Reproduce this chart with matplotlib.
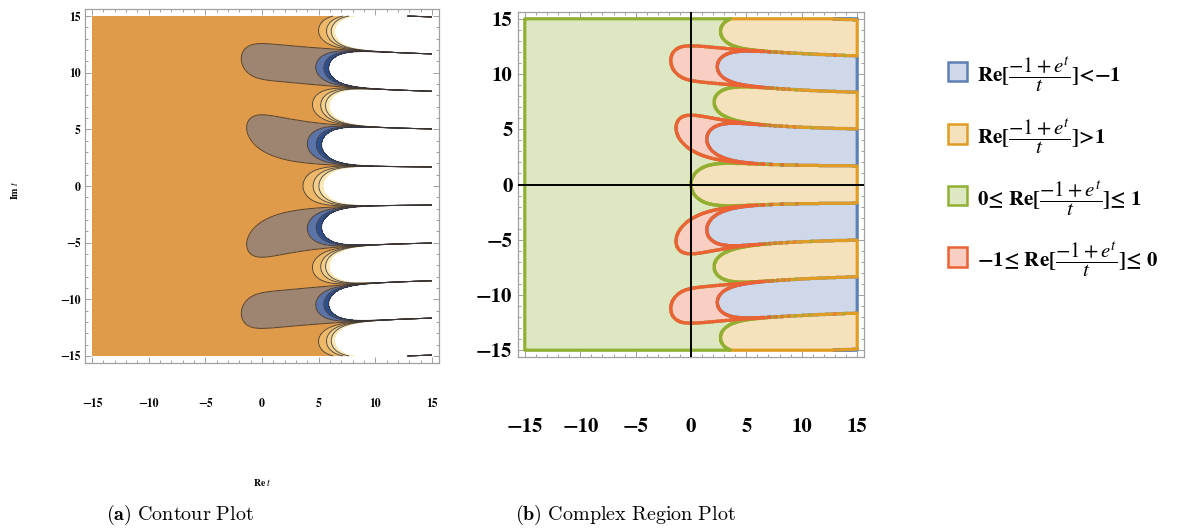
import numpy as np
import matplotlib.pyplot as plt
from matplotlib.patches import Rectangle
from matplotlib.colors import to_rgba
from matplotlib.ticker import MultipleLocator

# plotted function: Re[(e^t - 1)/t] on the square -15..15 x -15..15
re_lim = [-15, 15]
im_lim = [-15, 15]
n_grid = 900

# contour plot (a): contour levels and band colours
contour_levels = [-30, -20, -10, 0, 10, 20, 30, 40]
band_colors = ['#2c4f8e', '#5a73a8', '#9e8572', '#e09b4a', '#eeb868', '#f4cf8c', '#fbe7b4']

# region plot (b)
region_lo = [-np.inf, 1, 0, -1]
region_hi = [-1, np.inf, 1, 0]
region_colors = ['#5E81B5', '#E19C24', '#8FB032', '#EB6235']
frac = r'$\dfrac{-1+e^{t}}{t}$'
region_labels = ['Re[' + frac + ']<\u22121',
                 'Re[' + frac + ']>1',
                 '0\u2264 Re[' + frac + ']\u2264 1',
                 '\u22121\u2264 Re[' + frac + ']\u2264 0']

tick_values = [-15, -10, -5, 0, 5, 10, 15]

# evaluate the function
x = np.linspace(re_lim[0], re_lim[1], n_grid)
y = np.linspace(im_lim[0], im_lim[1], n_grid)
X, Y = np.meshgrid(x, y)
T = X + 1j * Y
with np.errstate(divide='ignore', invalid='ignore'):
    F = ((np.exp(T) - 1) / T).real
F[np.abs(T) == 0] = 1.0

fig = plt.figure(figsize=(11.91, 5.31), dpi=100)
frame_col = '#a0a0a0'


def style_frame(ax, pad, size, lab_pad_x, lab_pad_y, weight):
    ax.set_xlim(re_lim[0] - pad, re_lim[1] + pad)
    ax.set_ylim(im_lim[0] - pad, im_lim[1] + pad)
    ax.set_xticks(tick_values)
    ax.set_yticks(tick_values)
    ax.xaxis.set_minor_locator(MultipleLocator(1))
    ax.yaxis.set_minor_locator(MultipleLocator(1))
    for s in ax.spines.values():
        s.set_color(frame_col)
        s.set_linewidth(0.9)
    ax.tick_params(which='both', direction='in', top=True, right=True, color=frame_col, width=0.7)
    ax.tick_params(which='major', length=4)
    ax.tick_params(which='minor', length=2)
    ax.tick_params(axis='x', pad=lab_pad_x)
    ax.tick_params(axis='y', pad=lab_pad_y)
    for lab in ax.get_xticklabels() + ax.get_yticklabels():
        lab.set_fontfamily('STIXGeneral')
        lab.set_fontsize(size)
        lab.set_fontweight(weight)


# (a) contour plot
ax1 = fig.add_axes([85 / 1191, 1 - 363 / 531, 354 / 1191, 354 / 531])
ax1.contourf(X, Y, F, levels=contour_levels, colors=band_colors)
ax1.contour(X, Y, F, levels=contour_levels[:-1], colors='#3a3330', linewidths=0.7, alpha=0.85,
            negative_linestyles='solid')
style_frame(ax1, 0.62, 8.5, 25, 3, 'bold')
fig.text(262 / 1191, 1 - 483 / 531, r'Re $t$', ha='center', va='center', fontsize=7,
         fontfamily='STIXGeneral', fontweight='bold', math_fontfamily='stix')
fig.text(15 / 1191, 1 - 190 / 531, r'Im $t$', ha='center', va='center', fontsize=7, rotation=90,
         fontfamily='STIXGeneral', fontweight='bold', math_fontfamily='stix')

# (b) complex region plot
ax2 = fig.add_axes([518 / 1191, 1 - 357 / 531, 346 / 1191, 345 / 531])
dx = x[1] - x[0]
xp = np.concatenate([[x[0] - dx], x, [x[-1] + dx]])
yp = np.concatenate([[y[0] - dx], y, [y[-1] + dx]])
masks = []
for lo, hi in zip(region_lo, region_hi):
    m = ((F >= lo) & (F <= hi)).astype(float)
    masks.append(np.pad(m, 1))
for m, c in zip(masks, region_colors):
    ax2.contourf(xp, yp, m, levels=[0.5, 1.5], colors=[to_rgba(c, 0.3)])
for m, c in zip(masks, region_colors):
    ax2.contour(xp, yp, m, levels=[0.5], colors=[c], linewidths=2.3)
ax2.axhline(0, color='black', lw=1.4, zorder=5)
ax2.axvline(0, color='black', lw=1.4, zorder=5)
style_frame(ax2, 0.63, 15, 44, 4, 'bold')

# legend
row_y = [72, 134, 196, 257]
for yy, c, lab in zip(row_y, region_colors, region_labels):
    fig.patches.append(Rectangle((948 / 1191, 1 - (yy + 9.5) / 531), 19 / 1191, 19 / 531,
                                 transform=fig.transFigure, facecolor=to_rgba(c, 0.3),
                                 edgecolor=c, lw=1.8))
    fig.text(977 / 1191, 1 - (yy + 3) / 531, lab, ha='left', va='center', fontsize=15,
             fontfamily='STIXGeneral', fontweight='bold', math_fontfamily='stix')

# captions
fig.text(106 / 1191, 1 - 515 / 531, r'$\mathbf{(a)}\ \mathrm{Contour\ Plot}$', ha='left', va='center',
         fontsize=14.5, math_fontfamily='cm')
fig.text(515 / 1191, 1 - 515 / 531, r'$\mathbf{(b)}\ \mathrm{Complex\ Region\ Plot}$', ha='left',
         va='center', fontsize=14.5, math_fontfamily='cm')

fig.savefig('out.png', dpi=100)
